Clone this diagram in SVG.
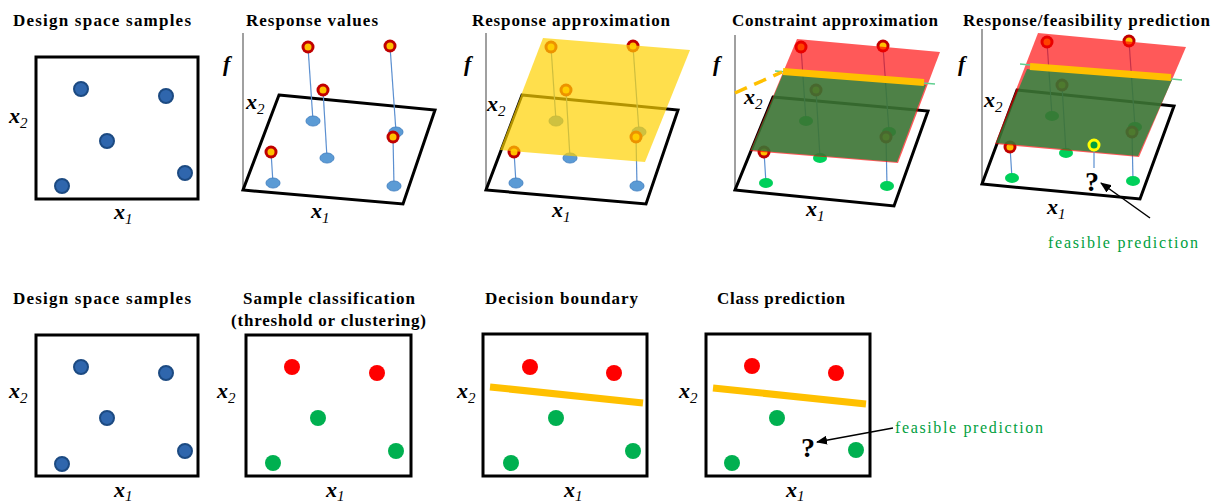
<svg xmlns="http://www.w3.org/2000/svg" xmlns:xlink="http://www.w3.org/1999/xlink" width="1219" height="503" viewBox="0 0 1219 503">
<style>
.ttl{font-family:"Liberation Serif",serif;font-weight:bold;font-size:17px;fill:#000}
.ax{font-family:"Liberation Serif",serif;font-weight:bold;font-style:italic;font-size:22px;fill:#000}
.sub{font-weight:normal;font-size:15px}
.q{font-family:"Liberation Serif",serif;font-weight:bold;font-size:28px;fill:#000}
.lbl{font-family:"Liberation Serif",serif;font-size:16px;fill:#00a040}
.box{fill:none;stroke:#000;stroke-width:3}
.base{fill:none;stroke:#000;stroke-width:3;stroke-linejoin:miter}
.axis{stroke:#808080;stroke-width:1.5}
.bdot{fill:#2f66ad;stroke:#1c4a82;stroke-width:2}
.be{fill:#5b9bd5;stroke:#4a86c5;stroke-width:1}
.ge{fill:#00d05a}
.stem{stroke:#5b8fd0;stroke-width:1.2}
.red{fill:#ff0000}
.grn{fill:#00b050}
.db{fill:none;stroke:#ffc000;stroke-width:7}
.yplane{fill:#ffd200;opacity:0.7}
.rplane{fill:#ff0000;opacity:0.65}
.gplane{fill:#0a9040;opacity:0.72}
.gline{stroke:#60d090;stroke-width:1.5}
.conn{stroke:#000;stroke-width:1.5;fill:none}
</style>
<defs>
<g id="rdot"><circle r="6.5" fill="#c00000"/><circle r="3.5" fill="#ffc000"/></g>
<marker id="ah" markerUnits="userSpaceOnUse" markerWidth="11" markerHeight="9" refX="10" refY="4.5" orient="auto"><path d="M0,0 L11,4.5 L0,9 z" fill="#000"/></marker>
</defs>

<g id="panel1">
<text class="ttl" x="13" y="26" textLength="178" lengthAdjust="spacing">Design space samples</text>
<rect class="box" x="36" y="57" width="162" height="142"/>
<circle class="bdot" cx="81" cy="89" r="7"/>
<circle class="bdot" cx="166" cy="96" r="7"/>
<circle class="bdot" cx="107" cy="141" r="7"/>
<circle class="bdot" cx="185" cy="173" r="7"/>
<circle class="bdot" cx="62" cy="186" r="7"/>
<text class="ax" x="9" y="123">x<tspan class="sub" dy="5">2</tspan></text>
<text class="ax" x="114" y="219">x<tspan class="sub" dy="5">1</tspan></text>
</g>

<g id="panel2">
<text class="ttl" x="246" y="26" textLength="132" lengthAdjust="spacing">Response values</text>
<line class="axis" x1="243" y1="33" x2="243" y2="190"/>
<polygon class="base" points="279,95 435,110 403,204 243,190"/>
<line class="stem" x1="308" y1="47" x2="313" y2="121"/>
<line class="stem" x1="323" y1="90" x2="327" y2="158"/>
<line class="stem" x1="390" y1="46" x2="396" y2="132"/>
<line class="stem" x1="393" y1="137" x2="394" y2="186"/>
<line class="stem" x1="271" y1="152" x2="273" y2="183"/>
<ellipse class="be" cx="313" cy="121" rx="7" ry="5"/>
<ellipse class="be" cx="327" cy="158" rx="7" ry="5"/>
<ellipse class="be" cx="396" cy="132" rx="7" ry="5"/>
<ellipse class="be" cx="394" cy="186" rx="7" ry="5"/>
<ellipse class="be" cx="273" cy="183" rx="7" ry="5"/>
<use href="#rdot" x="308" y="47"/>
<use href="#rdot" x="323" y="90"/>
<use href="#rdot" x="390" y="46"/>
<use href="#rdot" x="393" y="137"/>
<use href="#rdot" x="271" y="152"/>
<text class="ax" x="223" y="71">f</text>
<text class="ax" x="246" y="109">x<tspan class="sub" dy="5">2</tspan></text>
<text class="ax" x="311" y="218">x<tspan class="sub" dy="5">1</tspan></text>
</g>

<g id="panel3">
<text class="ttl" x="472" y="26" textLength="198" lengthAdjust="spacing">Response approximation</text>
<line class="axis" x1="486" y1="33" x2="486" y2="190"/>
<polygon class="base" points="522,95 678,110 646,204 486,190"/>
<line class="stem" x1="551" y1="47" x2="556" y2="121"/>
<line class="stem" x1="566" y1="90" x2="570" y2="158"/>
<line class="stem" x1="633" y1="46" x2="639" y2="132"/>
<line class="stem" x1="636" y1="137" x2="637" y2="186"/>
<line class="stem" x1="514" y1="152" x2="516" y2="183"/>
<ellipse class="be" cx="556" cy="121" rx="7" ry="5"/>
<ellipse class="be" cx="570" cy="158" rx="7" ry="5"/>
<ellipse class="be" cx="639" cy="132" rx="7" ry="5"/>
<ellipse class="be" cx="637" cy="186" rx="7" ry="5"/>
<ellipse class="be" cx="516" cy="183" rx="7" ry="5"/>
<use href="#rdot" x="551" y="47"/>
<use href="#rdot" x="566" y="90"/>
<use href="#rdot" x="633" y="46"/>
<use href="#rdot" x="636" y="137"/>
<use href="#rdot" x="514" y="152"/>
<polygon class="yplane" points="543,38 690,50 645,162 500,150"/>
<text class="ax" x="464" y="71">f</text>
<text class="ax" x="487" y="111">x<tspan class="sub" dy="5">2</tspan></text>
<text class="ax" x="552" y="217">x<tspan class="sub" dy="5">1</tspan></text>
</g>

<g id="panel4">
<text class="ttl" x="732" y="26" textLength="206" lengthAdjust="spacing">Constraint approximation</text>
<line class="axis" x1="735" y1="35" x2="735" y2="190"/>
<polygon class="base" points="773,97 928,111 894,206 735,190"/>
<line class="stem" x1="801" y1="47" x2="806" y2="121"/>
<line class="stem" x1="816" y1="90" x2="820" y2="158"/>
<line class="stem" x1="883" y1="46" x2="889" y2="132"/>
<line class="stem" x1="886" y1="137" x2="887" y2="186"/>
<line class="stem" x1="764" y1="152" x2="766" y2="183"/>
<ellipse class="ge" cx="806" cy="121" rx="7" ry="5"/>
<ellipse class="ge" cx="820" cy="158" rx="7" ry="5"/>
<ellipse class="ge" cx="889" cy="132" rx="7" ry="5"/>
<ellipse class="ge" cx="887" cy="186" rx="7" ry="5"/>
<ellipse class="ge" cx="766" cy="183" rx="7" ry="5"/>
<use href="#rdot" x="801" y="47"/>
<use href="#rdot" x="816" y="90"/>
<use href="#rdot" x="883" y="46"/>
<use href="#rdot" x="886" y="137"/>
<use href="#rdot" x="764" y="152"/>
<polygon class="rplane" points="797,39 940,52 898,163 750,151"/>
<polygon class="gplane" points="783,74 926,85 897,162 751,150"/>
<line class="gline" x1="775" y1="71" x2="935" y2="84"/>
<line class="db" x1="783" y1="71.5" x2="924" y2="82.5"/>
<line x1="735" y1="93" x2="782" y2="72" stroke="#ffc000" stroke-width="3.5" stroke-dasharray="13 8"/>
<text class="ax" x="713" y="71">f</text>
<text class="ax" x="744" y="104">x<tspan class="sub" dy="5">2</tspan></text>
<text class="ax" x="806" y="216">x<tspan class="sub" dy="5">1</tspan></text>
</g>

<g id="panel5">
<text class="ttl" x="963" y="26" textLength="247" lengthAdjust="spacing">Response/feasibility prediction</text>
<line class="axis" x1="982" y1="29" x2="982" y2="184"/>
<polygon class="base" points="1017,90 1174,106 1140,199 982,184"/>
<line class="stem" x1="1047" y1="42" x2="1052" y2="116"/>
<line class="stem" x1="1062" y1="85" x2="1066" y2="153"/>
<line class="stem" x1="1129" y1="41" x2="1135" y2="127"/>
<line class="stem" x1="1132" y1="132" x2="1133" y2="181"/>
<line class="stem" x1="1010" y1="147" x2="1012" y2="178"/>
<ellipse class="ge" cx="1052" cy="116" rx="7" ry="5"/>
<ellipse class="ge" cx="1066" cy="153" rx="7" ry="5"/>
<ellipse class="ge" cx="1135" cy="127" rx="7" ry="5"/>
<ellipse class="ge" cx="1133" cy="181" rx="7" ry="5"/>
<ellipse class="ge" cx="1012" cy="178" rx="7" ry="5"/>
<use href="#rdot" x="1047" y="42"/>
<use href="#rdot" x="1062" y="85"/>
<use href="#rdot" x="1129" y="41"/>
<use href="#rdot" x="1132" y="132"/>
<use href="#rdot" x="1010" y="147"/>
<polygon class="rplane" points="1038,33 1186,47 1139,157 995,144"/>
<polygon class="gplane" points="1027,69 1172,80 1138,156 996,143"/>
<line class="gline" x1="1020" y1="64" x2="1182" y2="80"/>
<line class="db" x1="1030" y1="66.5" x2="1171" y2="77.5"/>
<line class="stem" x1="1094" y1="150" x2="1094" y2="168"/>
<circle cx="1094" cy="145" r="5" fill="#00a040" stroke="#ffff00" stroke-width="3"/>
<text class="q" x="1092" y="191" text-anchor="middle">?</text>
<text class="lbl" x="1048" y="248" textLength="150" lengthAdjust="spacing">feasible prediction</text>
<text class="ax" x="958" y="71">f</text>
<text class="ax" x="984" y="107">x<tspan class="sub" dy="5">2</tspan></text>
<text class="ax" x="1047" y="214">x<tspan class="sub" dy="5">1</tspan></text>
</g>

<g id="panel6">
<text class="ttl" x="13" y="304" textLength="178" lengthAdjust="spacing">Design space samples</text>
<rect class="box" x="36" y="335" width="162" height="141"/>
<circle class="bdot" cx="81" cy="367" r="7"/>
<circle class="bdot" cx="166" cy="373" r="7"/>
<circle class="bdot" cx="107" cy="418" r="7"/>
<circle class="bdot" cx="185" cy="451" r="7"/>
<circle class="bdot" cx="62" cy="464" r="7"/>
<text class="ax" x="9" y="398">x<tspan class="sub" dy="5">2</tspan></text>
<text class="ax" x="114" y="497">x<tspan class="sub" dy="4">1</tspan></text>
</g>

<g id="panel7">
<text class="ttl" x="243" y="304" textLength="172" lengthAdjust="spacing">Sample classification</text>
<text class="ttl" x="231" y="326" textLength="195" lengthAdjust="spacing">(threshold or clustering)</text>
<rect class="box" x="246" y="335" width="165" height="141"/>
<circle class="red" cx="292" cy="367" r="8"/>
<circle class="red" cx="377" cy="373" r="8"/>
<circle class="grn" cx="318" cy="418" r="8"/>
<circle class="grn" cx="396" cy="451" r="8"/>
<circle class="grn" cx="273" cy="463" r="8"/>
<text class="ax" x="217" y="398">x<tspan class="sub" dy="5">2</tspan></text>
<text class="ax" x="326" y="497">x<tspan class="sub" dy="4">1</tspan></text>
</g>

<g id="panel8">
<text class="ttl" x="485" y="304" textLength="153" lengthAdjust="spacing">Decision boundary</text>
<rect class="box" x="483" y="334" width="164" height="142"/>
<circle class="red" cx="530" cy="367" r="8"/>
<circle class="red" cx="614" cy="373" r="8"/>
<line class="db" x1="490" y1="387" x2="643" y2="403"/>
<circle class="grn" cx="556" cy="418" r="8"/>
<circle class="grn" cx="633" cy="451" r="8"/>
<circle class="grn" cx="511" cy="463" r="8"/>
<text class="ax" x="457" y="398">x<tspan class="sub" dy="5">2</tspan></text>
<text class="ax" x="564" y="497">x<tspan class="sub" dy="4">1</tspan></text>
</g>

<g id="panel9">
<text class="ttl" x="717" y="304" textLength="128" lengthAdjust="spacing">Class prediction</text>
<rect class="box" x="706" y="334" width="164" height="142"/>
<circle class="red" cx="752" cy="366" r="8"/>
<circle class="red" cx="836" cy="373" r="8"/>
<line class="db" x1="713" y1="388" x2="866" y2="404"/>
<circle class="grn" cx="777" cy="418" r="8"/>
<circle class="grn" cx="856" cy="450" r="8"/>
<circle class="grn" cx="732" cy="463" r="8"/>
<text class="q" x="808" y="457" text-anchor="middle">?</text>
<text class="lbl" x="895" y="433" textLength="148" lengthAdjust="spacing">feasible prediction</text>
<text class="ax" x="679" y="398">x<tspan class="sub" dy="5">2</tspan></text>
<text class="ax" x="786" y="497">x<tspan class="sub" dy="4">1</tspan></text>
</g>

<g id="connectors">
<line class="conn" x1="1150" y1="218" x2="1101" y2="183" marker-end="url(#ah)"/>
<line class="conn" x1="893" y1="428" x2="817" y2="442" marker-end="url(#ah)"/>
</g>
</svg>
